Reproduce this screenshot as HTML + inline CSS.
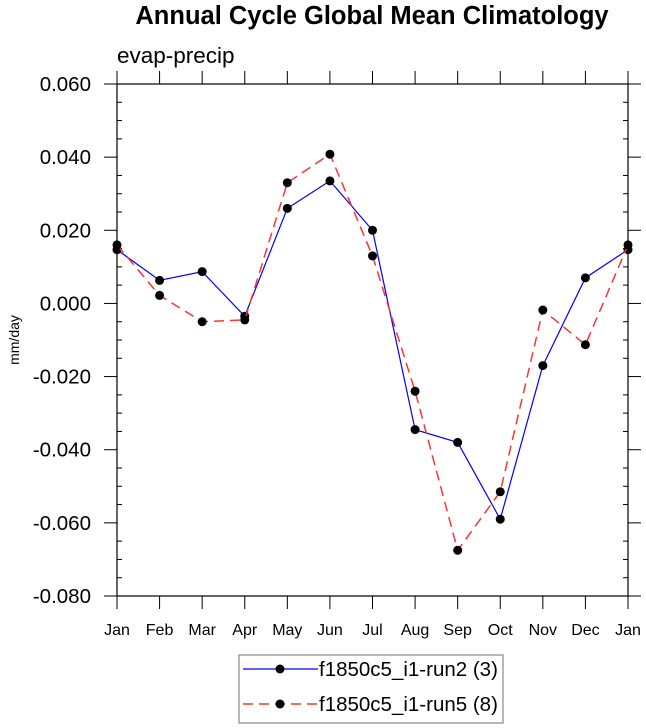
<!DOCTYPE html>
<html><head><meta charset="utf-8"><style>body{margin:0;background:#fff}svg{display:block;font-family:"Liberation Sans",sans-serif}</style></head>
<body>
<svg id="c" width="646" height="728">
<text x="372" y="24" font-size="25.5" font-weight="bold" text-anchor="middle">Annual Cycle Global Mean Climatology</text>
<text x="117" y="63" font-size="22.5">evap-precip</text>
<text transform="translate(19,340) rotate(-90)" font-size="14" text-anchor="middle">mm/day</text>
<g id="axes"></g><g id="series"></g>
<g>
<rect x="239" y="655" width="264" height="68" fill="none" stroke="#888" stroke-width="1.2"/>
<g>
<line x1="243" y1="669" x2="318" y2="669" stroke="#0000ff" stroke-width="1.2"/><circle cx="280" cy="669" r="4.5"/>
<text x="319" y="676" font-size="20.5">f1850c5_i1-run2 (3)</text></g>
<g>
<line x1="243" y1="704" x2="318" y2="704" stroke="#ff3333" stroke-width="1.5" stroke-dasharray="10,6"/><circle cx="280" cy="704" r="4.5"/>
<text x="319" y="711" font-size="20.5">f1850c5_i1-run5 (8)</text></g>
</g>
</svg>
<script>
const months=["Jan","Feb","Mar","Apr","May","Jun","Jul","Aug","Sep","Oct","Nov","Dec","Jan"];
const run2=[0.0147,0.0063,0.0087,-0.0035,0.026,0.0335,0.020,-0.0345,-0.038,-0.059,-0.017,0.007,0.0147];
const run5=[0.016,0.0022,-0.005,-0.0045,0.033,0.0408,0.013,-0.024,-0.0675,-0.0515,-0.0018,-0.0113,0.016];
const yTicks=[0.06,0.04,0.02,0,-0.02,-0.04,-0.06,-0.08];
const yTickLabels=["0.060","0.040","0.020","0.000","-0.020","-0.040","-0.060","-0.080"];
const L=117,R=628,T=84,B=596,yMax=0.06,yMin=-0.08;
const xs=i=>L+(R-L)*i/(months.length-1);
const ys=v=>T+(yMax-v)/(yMax-yMin)*(B-T);
const NS="http://www.w3.org/2000/svg";
function mk(tag,attrs,parent){const e=document.createElementNS(NS,tag);for(const k in attrs)e.setAttribute(k,attrs[k]);parent.appendChild(e);return e;}
const ax=document.getElementById('axes');
const fr=mk('rect',{x:L,y:T,width:R-L,height:B-T,fill:'none',stroke:'#000','stroke-width':1.2},ax);


yTicks.forEach((v,i)=>{const y=ys(v);
 mk('line',{x1:L-13,y1:y,x2:L,y2:y,stroke:'#000'},ax);
 mk('line',{x1:R,y1:y,x2:R+13,y2:y,stroke:'#000'},ax);
 const t=mk('text',{x:L-26,y:y+7,'font-size':20.5,'text-anchor':'end'},ax);t.textContent=yTickLabels[i];
 
 
 if(i<yTicks.length-1)for(let k=1;k<4;k++){const ym=ys(v-0.005*k);
  mk('line',{x1:L,y1:ym,x2:L+5,y2:ym,stroke:'#000'},ax);mk('line',{x1:R-5,y1:ym,x2:R,y2:ym,stroke:'#000'},ax);}
});
months.forEach((m,i)=>{const x=xs(i);
 mk('line',{x1:x,y1:B,x2:x,y2:B+13,stroke:'#000'},ax);
 mk('line',{x1:x,y1:T-13,x2:x,y2:T,stroke:'#000'},ax);
 const t=mk('text',{x:x,y:B+39,'font-size':16,'text-anchor':'middle'},ax);t.textContent=m;
 
 
});
const sg=document.getElementById('series');
function draw(data,color,dash,name){
 const g=mk('g',{},sg);
 
 
 mk('polyline',{points:data.map((v,i)=>xs(i)+','+ys(v)).join(' '),fill:'none',stroke:color,'stroke-width':dash?1.5:1.2,'stroke-dasharray':dash||'none'},g);
 data.forEach((v,i)=>{const c=mk('circle',{cx:xs(i),cy:ys(v),r:4.5,fill:'#000'},g);
  
  });
}
draw(run2,'#0000ff',null,'series-run2');
draw(run5,'#ff3333','10,6','series-run5');
</script>
</body></html>
